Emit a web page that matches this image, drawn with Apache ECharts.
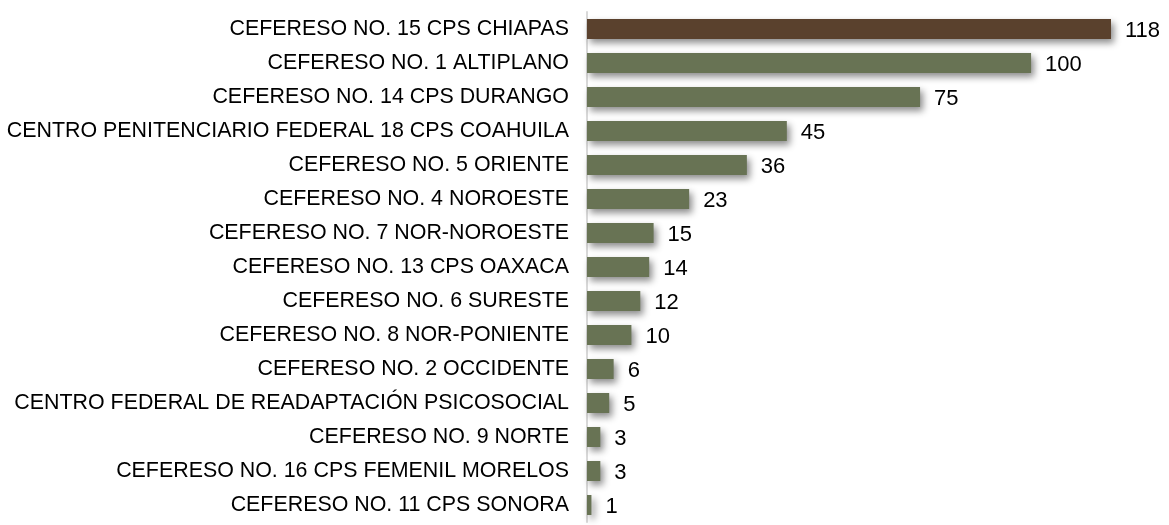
<!DOCTYPE html>
<html>
<head>
<meta charset="utf-8">
<script src="https://cdn.jsdelivr.net/npm/echarts@6/dist/echarts.min.js"></script>
<style>
  html, body { margin: 0; padding: 0; background: #fff; }
  #chart { width: 1169px; height: 525px; }
</style>
</head>
<body>
<div id="chart"></div>
<script>
// listed top to bottom as in the picture
const categories = [
  'CEFERESO NO. 15 CPS CHIAPAS',
  'CEFERESO NO. 1 ALTIPLANO',
  'CEFERESO NO. 14 CPS DURANGO',
  'CENTRO PENITENCIARIO FEDERAL 18 CPS COAHUILA',
  'CEFERESO NO. 5 ORIENTE',
  'CEFERESO NO. 4 NOROESTE',
  'CEFERESO NO. 7 NOR-NOROESTE',
  'CEFERESO NO. 13 CPS OAXACA',
  'CEFERESO NO. 6 SURESTE',
  'CEFERESO NO. 8 NOR-PONIENTE',
  'CEFERESO NO. 2 OCCIDENTE',
  'CENTRO FEDERAL DE READAPTACIÓN PSICOSOCIAL',
  'CEFERESO NO. 9 NORTE',
  'CEFERESO NO. 16 CPS FEMENIL MORELOS',
  'CEFERESO NO. 11 CPS SONORA',
]
const values = [118, 100, 75, 45, 36, 23, 15, 14, 12, 10, 6, 5, 3, 3, 1]

const chart = echarts.init(document.getElementById('chart'))

const option = {
  backgroundColor: '#fff',
  animation: false,
  grid: {
    left: 587,
    right: 58,
    top: 12,
    bottom: 3,
    containLabel: false,
  },
  xAxis: {
    type: 'value',
    min: 0,
    max: 118,
    show: false,
  },
  yAxis: {
    type: 'category',
    inverse: true,
    data: categories,
    axisLine: { show: true, lineStyle: { color: '#d9d9d9', width: 2 } },
    axisTick: { show: false },
    axisLabel: {
      color: '#000',
      fontFamily: 'Liberation Sans, Arial',
      fontSize: 21.4,
      margin: 18,
      offset: [0, 1],
    },
  },
  series: [{
    type: 'bar',
    data: values.map((v, i) => ({
      value: v,
      itemStyle: { color: i === 0 ? '#5a412d' : '#687354' },
    })),
    barWidth: 20,
    itemStyle: {
      shadowColor: 'rgba(0,0,0,0.45)',
      shadowBlur: 7,
      shadowOffsetX: 3,
      shadowOffsetY: 4,
    },
    label: {
      show: true,
      position: 'right',
      distance: 14,
      color: '#000',
      fontFamily: 'Liberation Sans, Arial',
      fontSize: 22,
      offset: [0, 2],
    },
  }],
}

chart.setOption(option)
</script>
</body>
</html>
